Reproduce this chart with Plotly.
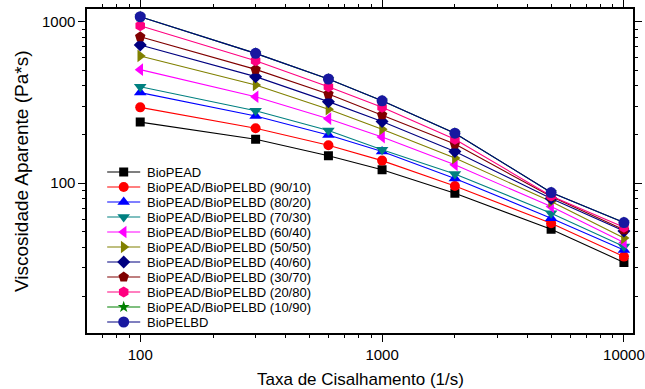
import plotly.graph_objects as go

# ---- data ----
shear_rate = [100, 300, 600, 1000, 2000, 5000, 10000]
series_names = [
    "BioPEAD",
    "BioPEAD/BioPELBD (90/10)",
    "BioPEAD/BioPELBD (80/20)",
    "BioPEAD/BioPELBD (70/30)",
    "BioPEAD/BioPELBD (60/40)",
    "BioPEAD/BioPELBD (50/50)",
    "BioPEAD/BioPELBD (40/60)",
    "BioPEAD/BioPELBD (30/70)",
    "BioPEAD/BioPELBD (20/80)",
    "BioPEAD/BioPELBD (10/90)",
    "BioPELBD",
]
biopead = [239, 187, 148, 121, 86.7, 51.9, 32.3]
b90_10 = [295, 219, 172, 138, 96, 56.5, 35.1]
b80_20 = [364, 261, 199, 157, 107, 60.7, 38.6]
b70_30 = [396, 281, 212, 161, 114, 65.2, 40.5]
b60_40 = [505, 343, 251, 193, 130, 71.6, 42.9]
b50_50 = [614, 406, 287, 216, 143, 76.9, 45.7]
b40_60 = [718, 457, 320, 241, 157, 80.5, 50.5]
b30_70 = [807, 507, 357, 265, 175, 82.6, 51.4]
b20_80 = [945, 574, 396, 295, 187, 83.4, 53.4]
b10_90 = [1074, 637, 442, 324, 204, 87.5, 57]
biopelbd = [1074, 637, 442, 324, 204, 87.5, 57]
series_values = [biopead, b90_10, b80_20, b70_30, b60_40, b50_50,
                 b40_60, b30_70, b20_80, b10_90, biopelbd]

x_tick_vals = [100, 1000, 10000]
x_tick_text = ["100", "1000", "10000"]
y_tick_vals = [100, 1000]
y_tick_text = ["100", "1000"]
x_minor = [70, 80, 90, 200, 300, 400, 500, 600, 700, 800, 900,
           2000, 3000, 4000, 5000, 6000, 7000, 8000, 9000]
y_minor = [20, 30, 40, 50, 60, 70, 80, 90, 200, 300, 400, 500, 600, 700, 800, 900]

# ---- styles ----
colors = ["#000000", "#FF0000", "#0000FF", "#008080", "#FF00FF", "#808000",
          "#000080", "#800000", "#FF0080", "#008000", "#1818A0"]
line_colors = ["#000000", "#FF0000", "#0000FF", "#008080", "#FF00FF", "#808000",
               "#000080", "#800000", "#FF0080", "#008000", "#000080"]
symbols = ["square", "circle", "triangle-up", "triangle-down", "triangle-left",
           "triangle-right", "diamond", "pentagon", "hexagon", "star", "circle"]
sizes = [9, 10, 11, 11, 11, 11, 10, 11, 11, 9, 11]

SX = 658 / 645  # horizontal compensation
W, H = 658, 389
L, R, T, B = 87 * SX, 632 * SX, 9, 333
FONT = "Liberation Sans, Arial, sans-serif"
X_RANGE = [1.7805, 4.0374]
Y_RANGE = [1.072, 3.079]

fig = go.Figure()

for name, vals, c, lc, s, sz in zip(series_names, series_values, colors,
                                     line_colors, symbols, sizes):
    fig.add_trace(go.Scatter(
        x=shear_rate, y=vals, mode="lines+markers", name=name,
        line=dict(color=lc, width=1.1),
        marker=dict(symbol=s, size=sz, color=c, line=dict(width=0)),
        showlegend=False, xaxis="x", yaxis="y",
    ))

# empty trace so the minor-tick overlay axes exist
fig.add_trace(go.Scatter(x=[], y=[], xaxis="x3", yaxis="y3", showlegend=False))

# ---- custom legend on a pixel overlay axis ----
leg_x0, leg_x1, leg_text_x = 107 * SX, 140 * SX, 145 * SX
leg_y0, leg_dy = 172, 15
for i, (name, c, lc, s, sz) in enumerate(zip(series_names, colors, line_colors,
                                             symbols, sizes)):
    yy = leg_y0 + i * leg_dy
    fig.add_trace(go.Scatter(
        x=[leg_x0, leg_x1], y=[yy, yy], mode="lines",
        line=dict(color=lc, width=1.1), showlegend=False,
        xaxis="x2", yaxis="y2", hoverinfo="skip"))
    fig.add_trace(go.Scatter(
        x=[(leg_x0 + leg_x1) / 2], y=[yy], mode="markers",
        marker=dict(symbol=s, size=sz, color=c, line=dict(width=0)),
        showlegend=False, xaxis="x2", yaxis="y2", hoverinfo="skip"))
    fig.add_annotation(x=leg_text_x, y=yy, xref="x2", yref="y2", text=name,
                       showarrow=False, xanchor="left", yanchor="middle",
                       font=dict(family=FONT, size=13, color="black"))

axis_common = dict(
    type="log", showline=True, linecolor="black", linewidth=1.5,
    mirror="ticks", ticks="outside", ticklen=7, tickwidth=1.2,
    tickcolor="black", showgrid=False, zeroline=False,
    tickfont=dict(family=FONT, size=15, color="black"),
)
minor_common = dict(
    type="log", showline=False, mirror="ticks", ticks="outside", ticklen=4,
    tickwidth=1, tickcolor="black", showgrid=False, zeroline=False,
    showticklabels=False, tickmode="array",
)

fig.update_layout(
    width=W, height=H,
    margin=dict(l=0, r=0, t=0, b=0),
    paper_bgcolor="white", plot_bgcolor="rgba(0,0,0,0)",
    showlegend=False,
    xaxis=dict(
        **axis_common,
        domain=[L / W, R / W],
        range=X_RANGE,
        tickmode="array", tickvals=x_tick_vals, ticktext=x_tick_text,
        anchor="y",
    ),
    yaxis=dict(
        **axis_common,
        domain=[1 - B / H, 1 - T / H],
        range=Y_RANGE,
        tickmode="array", tickvals=y_tick_vals, ticktext=y_tick_text,
        anchor="x",
    ),
    xaxis3=dict(**minor_common, overlaying="x", anchor="y3",
                range=X_RANGE, tickvals=x_minor),
    yaxis3=dict(**minor_common, overlaying="y", anchor="x3",
                range=Y_RANGE, tickvals=y_minor),
    xaxis2=dict(domain=[0, 1], range=[0, W], visible=False, anchor="y2",
                fixedrange=True),
    yaxis2=dict(domain=[0, 1], range=[H, 0], visible=False, anchor="x2",
                fixedrange=True),
)

fig.add_annotation(x=(L + R) / 2, y=379, xref="x2", yref="y2",
                   text="Taxa de Cisalhamento (1/s)", showarrow=False,
                   xanchor="center", yanchor="middle",
                   font=dict(family=FONT, size=17, color="black"))
fig.add_annotation(x=21 * SX, y=(T + B) / 2, xref="x2", yref="y2",
                   text="Viscosidade Aparente (Pa*s)", showarrow=False,
                   textangle=-90, xanchor="center", yanchor="middle",
                   font=dict(family=FONT, size=19, color="black"))

fig.write_html(
    "out.html",
    config={"displayModeBar": False},
    post_script="document.body.style.margin='0';document.body.style.overflow='hidden';",
)
